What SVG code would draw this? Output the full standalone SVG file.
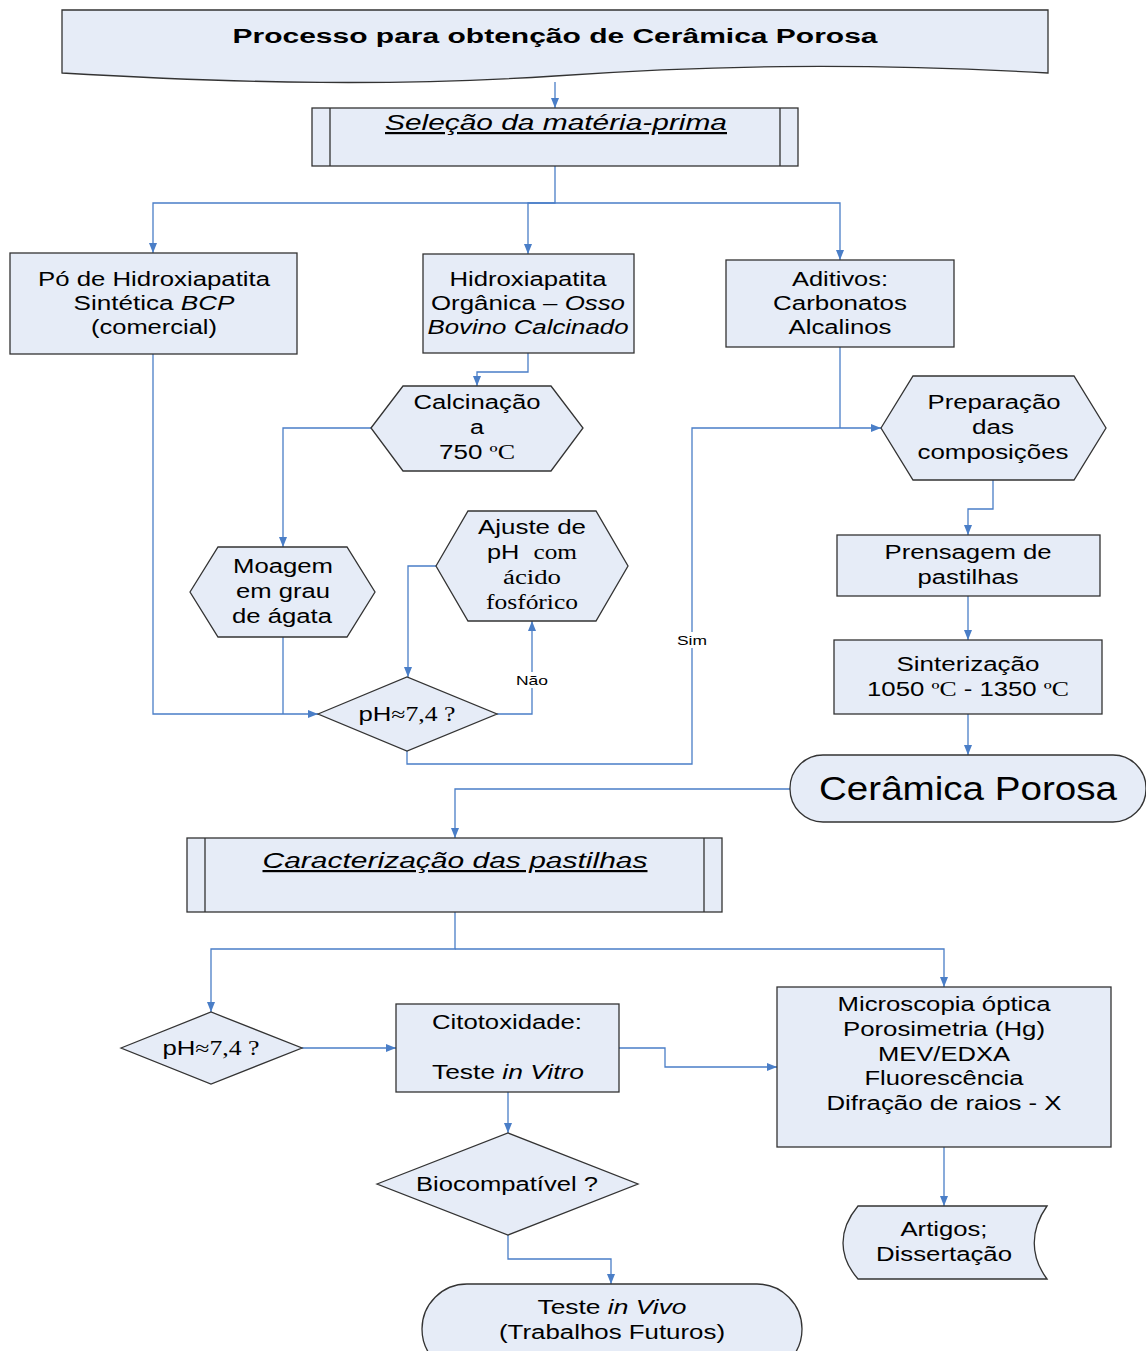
<svg xmlns="http://www.w3.org/2000/svg" width="1146" height="1351" viewBox="0 0 1146 1351">
<defs>
<marker id="ah" markerWidth="10" markerHeight="8" refX="10" refY="4" orient="auto" markerUnits="userSpaceOnUse">
<path d="M0,0 L10,4 L0,8 Z" fill="#4A7EC7"/>
</marker>
<style>
.n{fill:#E6ECF7;stroke:#333;stroke-width:1.3}
.c{fill:none;stroke:#4A7EC7;stroke-width:1.3}
.t{font-family:"Liberation Sans",Arial,sans-serif;font-size:20px;fill:#000;text-anchor:middle}
.s{font-family:"Liberation Serif","Times New Roman",serif}
.l{font-family:"Liberation Sans",Arial,sans-serif;font-size:13px;fill:#000;text-anchor:middle}
</style>
</defs>
<rect width="1146" height="1351" fill="#fff"/>
<g id="connectors">
<path class="c" d="M555,82 V108" marker-end="url(#ah)"/>
<path class="c" d="M555,166 V203 H153 V253" marker-end="url(#ah)"/>
<path class="c" d="M555,203 H528 V254" marker-end="url(#ah)"/>
<path class="c" d="M555,203 H840 V260" marker-end="url(#ah)"/>
<path class="c" d="M528,353 V372 H477 V386" marker-end="url(#ah)"/>
<path class="c" d="M371,428 H283 V547" marker-end="url(#ah)"/>
<path class="c" d="M153,354 V714 H318" marker-end="url(#ah)"/>
<path class="c" d="M283,637 V714"/>
<path class="c" d="M436,566 H408 V677" marker-end="url(#ah)"/>
<path class="c" d="M497,714 H532 V621" marker-end="url(#ah)"/>
<path class="c" d="M407,751 V764 H692 V428 H881" marker-end="url(#ah)"/>
<path class="c" d="M840,347 V428"/>
<path class="c" d="M993,480 V509 H968 V535" marker-end="url(#ah)"/>
<path class="c" d="M968,596 V640" marker-end="url(#ah)"/>
<path class="c" d="M968,714 V755" marker-end="url(#ah)"/>
<path class="c" d="M790,789 H455 V838" marker-end="url(#ah)"/>
<path class="c" d="M455,912 V949 H211 V1012" marker-end="url(#ah)"/>
<path class="c" d="M455,949 H944 V987" marker-end="url(#ah)"/>
<path class="c" d="M302,1048 H396" marker-end="url(#ah)"/>
<path class="c" d="M619,1048 H665 V1067 H777" marker-end="url(#ah)"/>
<path class="c" d="M944,1147 V1206" marker-end="url(#ah)"/>
<path class="c" d="M508,1092 V1133" marker-end="url(#ah)"/>
<path class="c" d="M508,1235 V1259 H611 V1284" marker-end="url(#ah)"/>
<rect x="514" y="672" width="36" height="16" fill="#fff"/>
<text class="l" x="532" y="685" textLength="32" lengthAdjust="spacingAndGlyphs">Não</text>
<rect x="675" y="632" width="34" height="16" fill="#fff"/>
<text class="l" x="692" y="645" textLength="30" lengthAdjust="spacingAndGlyphs">Sim</text>
</g>
<g id="title">
<path class="n" d="M62,10 H1048 V73 C850,62 700,66 555,76 C400,86 250,84 62,73 Z"/>
<text class="t" x="555" y="43" style="font-weight:bold" textLength="645" lengthAdjust="spacingAndGlyphs">Processo para obtenção de Cerâmica Porosa</text>
</g>
<g id="selecao">
<rect class="n" x="312" y="108" width="486" height="58"/>
<path class="n" d="M330,108 V166 M780,108 V166" fill="none"/>
<text class="t" x="556" y="130" style="font-style:italic;text-decoration:underline;font-size:22px" textLength="342" lengthAdjust="spacingAndGlyphs">Seleção da matéria-prima</text>
</g>
<g id="po-hidroxiapatita">
<rect class="n" x="10" y="253" width="287" height="101"/>
<text class="t" x="154" y="286" textLength="232" lengthAdjust="spacingAndGlyphs">Pó de Hidroxiapatita</text>
<text class="t" x="154" y="310" textLength="161" lengthAdjust="spacingAndGlyphs">Sintética <tspan font-style="italic">BCP</tspan></text>
<text class="t" x="154" y="334" textLength="126" lengthAdjust="spacingAndGlyphs">(comercial)</text>
</g>
<g id="hidroxiapatita-organica">
<rect class="n" x="423" y="254" width="211" height="99"/>
<text class="t" x="528" y="286" textLength="157" lengthAdjust="spacingAndGlyphs">Hidroxiapatita</text>
<text class="t" x="528" y="310" textLength="194" lengthAdjust="spacingAndGlyphs">Orgânica – <tspan font-style="italic">Osso</tspan></text>
<text class="t" x="528" y="334" font-style="italic" textLength="201" lengthAdjust="spacingAndGlyphs">Bovino Calcinado</text>
</g>
<g id="aditivos">
<rect class="n" x="726" y="260" width="228" height="87"/>
<text class="t" x="840" y="286" textLength="96" lengthAdjust="spacingAndGlyphs">Aditivos:</text>
<text class="t" x="840" y="310" textLength="134" lengthAdjust="spacingAndGlyphs">Carbonatos</text>
<text class="t" x="840" y="334" textLength="103" lengthAdjust="spacingAndGlyphs">Alcalinos</text>
</g>
<g id="calcinacao">
<path class="n" d="M371,428 L403,386 H551 L583,428 L551,471 H403 Z"/>
<text class="t" x="477" y="409" textLength="127" lengthAdjust="spacingAndGlyphs">Calcinação</text>
<text class="t" x="477" y="434" textLength="14" lengthAdjust="spacingAndGlyphs">a</text>
<text class="t" x="477" y="459" textLength="76" lengthAdjust="spacingAndGlyphs">750 <tspan class="s">ºC</tspan></text>
</g>
<g id="moagem">
<path class="n" d="M190,592 L218,547 H347 L375,592 L347,637 H218 Z"/>
<text class="t" x="283" y="573" textLength="100" lengthAdjust="spacingAndGlyphs">Moagem</text>
<text class="t" x="283" y="598" textLength="94" lengthAdjust="spacingAndGlyphs">em grau</text>
<text class="t" x="282" y="623" textLength="100" lengthAdjust="spacingAndGlyphs">de ágata</text>
</g>
<g id="ajuste-ph">
<path class="n" d="M436,566 L468,511 H596 L628,566 L596,621 H468 Z"/>
<text class="t" x="532" y="534" textLength="108" lengthAdjust="spacingAndGlyphs">Ajuste de</text>
<text class="t" x="532" y="559" textLength="90" lengthAdjust="spacingAndGlyphs" xml:space="preserve">pH  <tspan class="s">com</tspan></text>
<text class="t s" x="532" y="584" textLength="58" lengthAdjust="spacingAndGlyphs">ácido</text>
<text class="t s" x="532" y="609" textLength="92" lengthAdjust="spacingAndGlyphs">fosfórico</text>
</g>
<g id="decisao-ph-1">
<path class="n" d="M318,714 L407,677 L497,714 L407,751 Z"/>
<text class="t" x="407" y="721" textLength="97" lengthAdjust="spacingAndGlyphs">pH<tspan class="s">≈7,4 ?</tspan></text>
</g>
<g id="preparacao">
<path class="n" d="M881,428 L913,376 H1074 L1106,428 L1074,480 H913 Z"/>
<text class="t" x="994" y="409" textLength="133" lengthAdjust="spacingAndGlyphs">Preparação</text>
<text class="t" x="993" y="434" textLength="42" lengthAdjust="spacingAndGlyphs">das</text>
<text class="t" x="993" y="459" textLength="151" lengthAdjust="spacingAndGlyphs">composições</text>
</g>
<g id="prensagem">
<rect class="n" x="837" y="535" width="263" height="61"/>
<text class="t" x="968" y="559" textLength="167" lengthAdjust="spacingAndGlyphs">Prensagem de</text>
<text class="t" x="968" y="584" textLength="101" lengthAdjust="spacingAndGlyphs">pastilhas</text>
</g>
<g id="sinterizacao">
<rect class="n" x="834" y="640" width="268" height="74"/>
<text class="t" x="968" y="671" textLength="143" lengthAdjust="spacingAndGlyphs">Sinterização</text>
<text class="t" x="968" y="696" textLength="202" lengthAdjust="spacingAndGlyphs">1050 <tspan class="s">ºC</tspan> - 1350 <tspan class="s">ºC</tspan></text>
</g>
<g id="ceramica-porosa">
<rect class="n" x="790" y="755" width="356" height="67" rx="33" ry="33"/>
<text class="t" x="968" y="800" style="font-size:34px" textLength="298" lengthAdjust="spacingAndGlyphs">Cerâmica Porosa</text>
</g>
<g id="caracterizacao">
<rect class="n" x="187" y="838" width="535" height="74"/>
<path class="n" d="M205,838 V912 M704,838 V912" fill="none"/>
<text class="t" x="455" y="868" style="font-style:italic;text-decoration:underline;font-size:22px" textLength="385" lengthAdjust="spacingAndGlyphs">Caracterização das pastilhas</text>
</g>
<g id="decisao-ph-2">
<path class="n" d="M121,1048 L211,1012 L302,1048 L211,1084 Z"/>
<text class="t" x="211" y="1055" textLength="97" lengthAdjust="spacingAndGlyphs">pH<tspan class="s">≈7,4 ?</tspan></text>
</g>
<g id="citotoxidade">
<rect class="n" x="396" y="1004" width="223" height="88"/>
<text class="t" x="507" y="1029" textLength="150" lengthAdjust="spacingAndGlyphs">Citotoxidade:</text>
<text class="t" x="508" y="1079" textLength="152" lengthAdjust="spacingAndGlyphs">Teste <tspan font-style="italic">in Vitro</tspan></text>
</g>
<g id="microscopia">
<rect class="n" x="777" y="987" width="334" height="160"/>
<text class="t" x="944" y="1011" textLength="213" lengthAdjust="spacingAndGlyphs">Microscopia óptica</text>
<text class="t" x="944" y="1036" textLength="202" lengthAdjust="spacingAndGlyphs">Porosimetria (Hg)</text>
<text class="t" x="944" y="1061" textLength="132" lengthAdjust="spacingAndGlyphs">MEV/EDXA</text>
<text class="t" x="944" y="1085" textLength="159" lengthAdjust="spacingAndGlyphs">Fluorescência</text>
<text class="t" x="944" y="1110" textLength="235" lengthAdjust="spacingAndGlyphs">Difração de raios - X</text>
</g>
<g id="artigos">
<path class="n" d="M858,1206 H1047 C1030,1230 1030,1256 1047,1279 H858 C838,1256 838,1230 858,1206 Z"/>
<text class="t" x="944" y="1236" textLength="87" lengthAdjust="spacingAndGlyphs">Artigos;</text>
<text class="t" x="944" y="1261" textLength="136" lengthAdjust="spacingAndGlyphs">Dissertação</text>
</g>
<g id="biocompativel">
<path class="n" d="M377,1184 L508,1133 L638,1184 L508,1235 Z"/>
<text class="t" x="507" y="1191" textLength="182" lengthAdjust="spacingAndGlyphs">Biocompatível ?</text>
</g>
<g id="teste-in-vivo">
<rect class="n" x="422" y="1284" width="380" height="90" rx="45" ry="45"/>
<text class="t" x="612" y="1314" textLength="149" lengthAdjust="spacingAndGlyphs">Teste <tspan font-style="italic">in Vivo</tspan></text>
<text class="t" x="612" y="1339" textLength="226" lengthAdjust="spacingAndGlyphs">(Trabalhos Futuros)</text>
</g>
</svg>
